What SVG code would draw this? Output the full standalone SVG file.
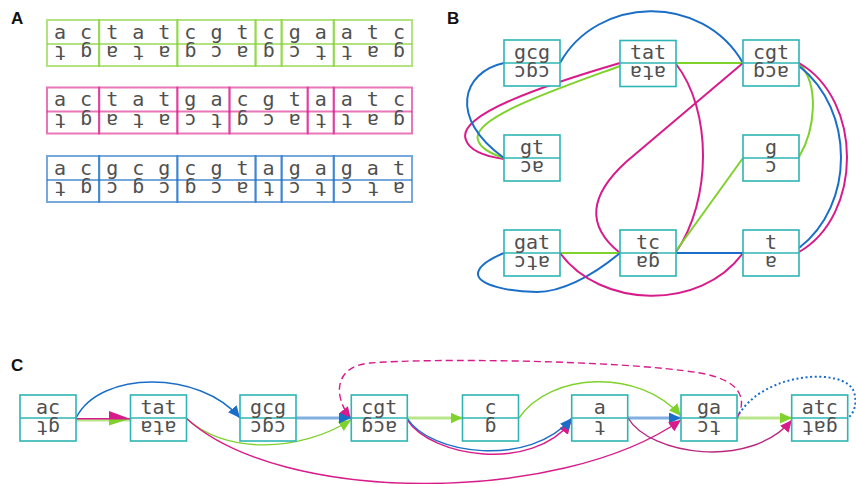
<svg xmlns="http://www.w3.org/2000/svg" width="856" height="484" viewBox="0 0 856 484">
<style>
.lbl{font-family:"Liberation Sans",Arial,sans-serif;font-weight:bold;font-size:17px;fill:#111}
.t{font-family:"DejaVu Sans Mono",monospace;font-size:20px;fill:#505050;text-anchor:middle}
.box{fill:#fff;stroke:#2db4b4;stroke-width:1.6}
.div{stroke:#2db4b4;stroke-width:1.6}
.ag{fill:none;stroke:#7fd12b;stroke-opacity:.6;stroke-width:2}
.am{fill:none;stroke:#d81b8a;stroke-opacity:.6;stroke-width:2}
.ab{fill:none;stroke:#1a6ec8;stroke-opacity:.6;stroke-width:2}
.e{fill:none;stroke-width:2}
.c{fill:none;stroke-width:1.4}
.g{stroke:#7fd12b}.m{stroke:#d81b8a}.b{stroke:#1a6ec8}.dm{stroke:#b8287e}
.lt{stroke-width:2.8;stroke-opacity:.55}
</style>
<defs>
<marker id="arB" viewBox="0 0 12 11" refX="12" refY="5.5" markerWidth="12" markerHeight="11" markerUnits="userSpaceOnUse" orient="auto"><path d="M0,0L12,5.5L0,11z" fill="#1a6ec8"/></marker>
<marker id="arG" viewBox="0 0 12 11" refX="12" refY="5.5" markerWidth="12" markerHeight="11" markerUnits="userSpaceOnUse" orient="auto"><path d="M0,0L12,5.5L0,11z" fill="#7fd12b"/></marker>
<marker id="arM" viewBox="0 0 12 11" refX="12" refY="5.5" markerWidth="12" markerHeight="11" markerUnits="userSpaceOnUse" orient="auto"><path d="M0,0L12,5.5L0,11z" fill="#d81b8a"/></marker>
<marker id="arD" viewBox="0 0 12 11" refX="12" refY="5.5" markerWidth="12" markerHeight="11" markerUnits="userSpaceOnUse" orient="auto"><path d="M0,0L12,5.5L0,11z" fill="#d81b8a"/></marker>
<marker id="halfM" viewBox="0 0 21 8" refX="21" refY="7.7" markerWidth="21" markerHeight="8" markerUnits="userSpaceOnUse" orient="auto"><path d="M0,0L21,7.7L0,7.7z" fill="#d81b8a"/></marker>
<marker id="halfG" viewBox="0 0 21 7" refX="21" refY="1.3" markerWidth="21" markerHeight="7" markerUnits="userSpaceOnUse" orient="auto"><path d="M0,0L21,0L0,6.8z" fill="#7fd12b"/></marker>
</defs>

<!-- Panel labels -->
<text class="lbl" x="11" y="24">A</text>
<text class="lbl" x="447" y="24">B</text>
<text class="lbl" x="11" y="371">C</text>

<!-- Panel A -->
<g id="rowA1">
<rect class="ag" x="47" y="20" width="52.14" height="46"/><line class="ag" x1="47" y1="44" x2="99.14" y2="44"/>
<rect class="ag" x="99.14" y="20" width="78.21" height="46"/><line class="ag" x1="99.14" y1="44" x2="177.35" y2="44"/>
<rect class="ag" x="177.35" y="20" width="78.21" height="46"/><line class="ag" x1="177.35" y1="44" x2="255.56" y2="44"/>
<rect class="ag" x="255.56" y="20" width="26.07" height="46"/><line class="ag" x1="255.56" y1="44" x2="281.63" y2="44"/>
<rect class="ag" x="281.63" y="20" width="52.14" height="46"/><line class="ag" x1="281.63" y1="44" x2="333.77" y2="44"/>
<rect class="ag" x="333.77" y="20" width="78.23" height="46"/><line class="ag" x1="333.77" y1="44" x2="412" y2="44"/>
<text class="t" x="60.03 86.1 112.17 138.24 164.31 190.38 216.45 242.52 268.59 294.66 320.73 346.8 372.87 398.94" y="38.5">actatcgtcgaatc</text>
<text class="t" x="60.03 86.1 112.17 138.24 164.31 190.38 216.45 242.52 268.59 294.66 320.73 346.8 372.87 398.94" y="46" transform="rotate(180 229.5 46)">gattcgacgatagt</text>
</g>
<g id="rowA2">
<rect class="am" x="47" y="87.5" width="52.14" height="46"/><line class="am" x1="47" y1="111.5" x2="99.14" y2="111.5"/>
<rect class="am" x="99.14" y="87.5" width="78.21" height="46"/><line class="am" x1="99.14" y1="111.5" x2="177.35" y2="111.5"/>
<rect class="am" x="177.35" y="87.5" width="52.14" height="46"/><line class="am" x1="177.35" y1="111.5" x2="229.49" y2="111.5"/>
<rect class="am" x="229.49" y="87.5" width="78.21" height="46"/><line class="am" x1="229.49" y1="111.5" x2="307.7" y2="111.5"/>
<rect class="am" x="307.7" y="87.5" width="26.07" height="46"/><line class="am" x1="307.7" y1="111.5" x2="333.77" y2="111.5"/>
<rect class="am" x="333.77" y="87.5" width="78.23" height="46"/><line class="am" x1="333.77" y1="111.5" x2="412" y2="111.5"/>
<text class="t" x="60.03 86.1 112.17 138.24 164.31 190.38 216.45 242.52 268.59 294.66 320.73 346.8 372.87 398.94" y="106">actatgacgtaatc</text>
<text class="t" x="60.03 86.1 112.17 138.24 164.31 190.38 216.45 242.52 268.59 294.66 320.73 346.8 372.87 398.94" y="113.5" transform="rotate(180 229.5 113.5)">gattacgtcatagt</text>
</g>
<g id="rowA3">
<rect class="ab" x="47" y="156" width="52.14" height="46"/><line class="ab" x1="47" y1="180" x2="99.14" y2="180"/>
<rect class="ab" x="99.14" y="156" width="78.21" height="46"/><line class="ab" x1="99.14" y1="180" x2="177.35" y2="180"/>
<rect class="ab" x="177.35" y="156" width="78.21" height="46"/><line class="ab" x1="177.35" y1="180" x2="255.56" y2="180"/>
<rect class="ab" x="255.56" y="156" width="26.07" height="46"/><line class="ab" x1="255.56" y1="180" x2="281.63" y2="180"/>
<rect class="ab" x="281.63" y="156" width="52.14" height="46"/><line class="ab" x1="281.63" y1="180" x2="333.77" y2="180"/>
<rect class="ab" x="333.77" y="156" width="78.23" height="46"/><line class="ab" x1="333.77" y1="180" x2="412" y2="180"/>
<text class="t" x="60.03 86.1 112.17 138.24 164.31 190.38 216.45 242.52 268.59 294.66 320.73 346.8 372.87 398.94" y="174.5">acgcgcgtagagat</text>
<text class="t" x="60.03 86.1 112.17 138.24 164.31 190.38 216.45 242.52 268.59 294.66 320.73 346.8 372.87 398.94" y="182" transform="rotate(180 229.5 182)">atctctacgcgcgt</text>
</g>

<!-- Panel B connectors -->
<g id="connectorsB">
<path class="e m" d="M620,63 C545,85 455,115 466,140 C470,152 490,157 504,159"/>
<path class="e g" d="M620,66 C560,88 470,118 478,140 C481,150 495,155 504,158"/>
<path class="e b" d="M504,63 C462,72 448,118 504,158"/>
<path class="e b" d="M560,63 C597,-4 702,-8 743,63"/>
<path class="e g" d="M676,63 L743,63"/>
<path class="e m" d="M676,64 C712,110 712,200 676,252"/>
<path class="e m" d="M620,253 C585,225 590,195 626,162 L743,63"/>
<path class="e g" d="M799,63 C820,85 815,130 799,157"/>
<path class="e m" d="M799,63 C863,100 863,215 799,252"/>
<path class="e b" d="M799,66 C855,110 855,205 799,248"/>
<path class="e g" d="M743,158 L676,251"/>
<path class="e b" d="M743,253 L676,253"/>
<path class="e g" d="M620,253 L560,253"/>
<path class="e b" d="M620,253 C590,278 560,292 537,292 C510,292 478,285 478,274 C478,265 492,258 504,253"/>
<path class="e m" d="M560,253 C600,308 700,312 743,253"/>
</g>

<!-- Panel B nodes -->
<g id="B-gcg"><rect class="box" x="504" y="40" width="56" height="46"/><line class="div" x1="504" y1="63" x2="560" y2="63"/><text class="t" x="532" y="58.5">gcg</text><text class="t" x="532" y="65.5" transform="rotate(180 532 65.5)">cgc</text></g>
<g id="B-tat"><rect class="box" x="620" y="40.5" width="56" height="46"/><line class="div" x1="620" y1="63" x2="676" y2="63"/><text class="t" x="648" y="58.5">tat</text><text class="t" x="648" y="65.5" transform="rotate(180 648 65.5)">ata</text></g>
<g id="B-cgt"><rect class="box" x="743" y="40" width="56" height="46"/><line class="div" x1="743" y1="63" x2="799" y2="63"/><text class="t" x="771" y="58.5">cgt</text><text class="t" x="771" y="65.5" transform="rotate(180 771 65.5)">acg</text></g>
<g id="B-gt"><rect class="box" x="504" y="135" width="56" height="46"/><line class="div" x1="504" y1="158" x2="560" y2="158"/><text class="t" x="532" y="153.5">gt</text><text class="t" x="532" y="160.5" transform="rotate(180 532 160.5)">ac</text></g>
<g id="B-g"><rect class="box" x="743" y="135" width="56" height="46"/><line class="div" x1="743" y1="158" x2="799" y2="158"/><text class="t" x="771" y="153.5">g</text><text class="t" x="771" y="160.5" transform="rotate(180 771 160.5)">c</text></g>
<g id="B-gat"><rect class="box" x="504" y="230" width="56" height="46"/><line class="div" x1="504" y1="253" x2="560" y2="253"/><text class="t" x="532" y="248.5">gat</text><text class="t" x="532" y="255.5" transform="rotate(180 532 255.5)">atc</text></g>
<g id="B-tc"><rect class="box" x="620" y="230" width="56" height="46"/><line class="div" x1="620" y1="253" x2="676" y2="253"/><text class="t" x="648" y="248.5">tc</text><text class="t" x="648" y="255.5" transform="rotate(180 648 255.5)">ga</text></g>
<g id="B-t"><rect class="box" x="743" y="230" width="56" height="46"/><line class="div" x1="743" y1="253" x2="799" y2="253"/><text class="t" x="771" y="248.5">t</text><text class="t" x="771" y="255.5" transform="rotate(180 771 255.5)">a</text></g>

<!-- Panel C connectors -->
<g id="connectorsC">
<path class="c g lt" d="M76,420 L130,420" marker-end="url(#halfG)"/>
<path class="c m" d="M76,418.7 L130,418.7" marker-end="url(#halfM)"/>
<path class="c b" d="M76,418 C100,370 200,370 240,418" marker-end="url(#arB)"/>
<path class="c g" d="M186,418 C225,455 300,452 351,420" marker-end="url(#arG)"/>
<path class="c m" d="M737,418 C748,398 740,380 700,373 C620,360 430,358 370,363 C335,366 332,395 351,419" stroke-dasharray="7 4" marker-end="url(#arM)"/>
<path class="c b lt" d="M296,418 L351,418" marker-end="url(#arB)"/>
<path class="c g lt" d="M407,418 L462.5,418" marker-end="url(#arG)"/>
<path class="c m" d="M407,419.5 C432,458 532,472 571,422" marker-end="url(#arM)"/>
<path class="c b" d="M407,418 C430,455 530,468 572,418" marker-end="url(#arB)"/>
<path class="c b lt" d="M628,418 L681,418" marker-end="url(#arB)"/>
<path class="c m" d="M186,418 C280,505 560,505 681,420" marker-end="url(#arM)"/>
<path class="c g" d="M519,418 C550,372 640,368 681,416" marker-end="url(#arG)"/>
<path class="c dm" d="M628,418 C650,455 750,470 792,420" marker-end="url(#arD)"/>
<path class="c g lt" d="M737,418 L792,418" marker-end="url(#arG)"/>
<path class="b" d="M737,418 C760,372 845,366 854,392 C858,405 853,414 848,418" fill="none" stroke-width="2" stroke-dasharray="2 2.6"/>
</g>

<!-- Panel C nodes -->
<g id="C-ac"><rect class="box" x="20" y="395" width="56" height="46"/><line class="div" x1="20" y1="418" x2="76" y2="418"/><text class="t" x="48" y="414">ac</text><text class="t" x="48" y="420.5" transform="rotate(180 48 420.5)">gt</text></g>
<g id="C-tat"><rect class="box" x="130.5" y="395" width="56" height="46"/><line class="div" x1="130.5" y1="418" x2="186.5" y2="418"/><text class="t" x="158.5" y="414">tat</text><text class="t" x="158.5" y="420.5" transform="rotate(180 158.5 420.5)">ata</text></g>
<g id="C-gcg"><rect class="box" x="240" y="395" width="56" height="46"/><line class="div" x1="240" y1="418" x2="296" y2="418"/><text class="t" x="268" y="414">gcg</text><text class="t" x="268" y="420.5" transform="rotate(180 268 420.5)">cgc</text></g>
<g id="C-cgt"><rect class="box" x="351.3" y="395" width="56" height="46"/><line class="div" x1="351.3" y1="418" x2="407.3" y2="418"/><text class="t" x="379.3" y="414">cgt</text><text class="t" x="379.3" y="420.5" transform="rotate(180 379.3 420.5)">acg</text></g>
<g id="C-c"><rect class="box" x="462.5" y="395" width="56" height="46"/><line class="div" x1="462.5" y1="418" x2="518.5" y2="418"/><text class="t" x="490.5" y="414">c</text><text class="t" x="490.5" y="420.5" transform="rotate(180 490.5 420.5)">g</text></g>
<g id="C-a"><rect class="box" x="571.7" y="395" width="56" height="46"/><line class="div" x1="571.7" y1="418" x2="627.7" y2="418"/><text class="t" x="599.7" y="414">a</text><text class="t" x="599.7" y="420.5" transform="rotate(180 599.7 420.5)">t</text></g>
<g id="C-ga"><rect class="box" x="681" y="395" width="56" height="46"/><line class="div" x1="681" y1="418" x2="737" y2="418"/><text class="t" x="709" y="414">ga</text><text class="t" x="709" y="420.5" transform="rotate(180 709 420.5)">tc</text></g>
<g id="C-atc"><rect class="box" x="791.7" y="395" width="56" height="46"/><line class="div" x1="791.7" y1="418" x2="847.7" y2="418"/><text class="t" x="819.7" y="414">atc</text><text class="t" x="819.7" y="420.5" transform="rotate(180 819.7 420.5)">gat</text></g>
</svg>
